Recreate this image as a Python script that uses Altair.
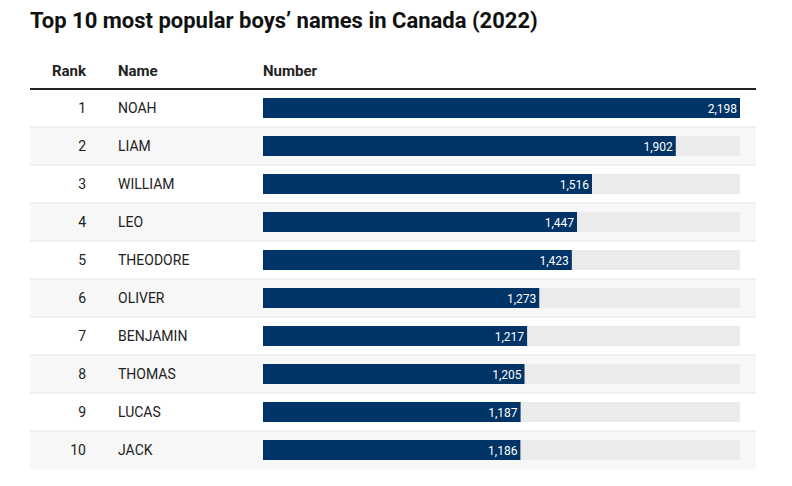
import altair as alt
import pandas as pd

ranks = [1, 2, 3, 4, 5, 6, 7, 8, 9, 10]
names = ["NOAH", "LIAM", "WILLIAM", "LEO", "THEODORE", "OLIVER", "BENJAMIN", "THOMAS", "LUCAS", "JACK"]
numbers = [2198, 1902, 1516, 1447, 1423, 1273, 1217, 1205, 1187, 1186]
max_number = 2198
title_text = "Top 10 most popular boys\u2019 names in Canada (2022)"
headers = ["Rank", "Name", "Number"]

df = pd.DataFrame({"rank": ranks, "name": names, "number": numbers})
df["label"] = [f"{v:,}" for v in numbers]
df["zero"] = 0
df["maxv"] = max_number
df["ytop"] = df["rank"] - 0.5
df["ybot"] = df["rank"] + 0.5
df["btop"] = df["rank"] - 0.265
df["bbot"] = df["rank"] + 0.265

FONT = "Roboto"
xs = alt.Scale(domain=[0, max_number], range=[255, 732])
ys = alt.Scale(domain=[0.5, 10.5], range=[81, 461])

base = alt.Chart(df)

row_bg = base.transform_filter("datum.rank % 2 == 0").mark_rect(color="#f7f7f7").encode(
    x=alt.value(22), x2=alt.value(748),
    y=alt.Y("ytop:Q", scale=ys, axis=None), y2="ybot:Q",
)

seps = base.transform_filter("datum.rank < 10").mark_rule(color="#e4e4e4", strokeWidth=1).encode(
    x=alt.value(22), x2=alt.value(748),
    y=alt.Y("ybot:Q", scale=ys, axis=None),
)

header_line = base.transform_filter("datum.rank == 1").mark_rule(color="#222222", strokeWidth=2).encode(
    x=alt.value(22), x2=alt.value(748),
    y=alt.Y("ytop:Q", scale=ys, axis=None),
)

bar_bg = base.mark_rect(color="#ebebeb").encode(
    x=alt.X("zero:Q", scale=xs, axis=None), x2="maxv:Q",
    y=alt.Y("btop:Q", scale=ys, axis=None), y2="bbot:Q",
)

bars = base.mark_rect(color="#003366").encode(
    x=alt.X("zero:Q", scale=xs, axis=None), x2="number:Q",
    y=alt.Y("btop:Q", scale=ys, axis=None), y2="bbot:Q",
)

vlabels = base.mark_text(align="right", baseline="middle", dx=-3, dy=1, color="white", font=FONT, fontSize=12).encode(
    x=alt.X("number:Q", scale=xs, axis=None),
    y=alt.Y("rank:Q", scale=ys, axis=None),
    text="label:N",
)

rank_txt = base.mark_text(align="right", baseline="middle", dy=1, color="#222222", font=FONT, fontSize=14).encode(
    x=alt.value(78),
    y=alt.Y("rank:Q", scale=ys, axis=None),
    text="rank:N",
)

name_txt = base.mark_text(align="left", baseline="middle", dy=1, color="#222222", font=FONT, fontSize=14).encode(
    x=alt.value(110),
    y=alt.Y("rank:Q", scale=ys, axis=None),
    text="name:N",
)

hdf = pd.DataFrame({"h": headers, "hx": [78, 110, 255]})
hdr_rank = alt.Chart(hdf.iloc[[0]]).mark_text(align="right", baseline="middle", font=FONT, fontSize=15, fontWeight="bold", color="#222222").encode(
    x=alt.value(78), y=alt.value(63), text="h:N")
hdr_rest = alt.Chart(hdf.iloc[1:]).mark_text(align="left", baseline="middle", font=FONT, fontSize=15, fontWeight="bold", color="#222222").encode(
    x=alt.X("hx:Q", scale=None), y=alt.value(63), text="h:N")

title = alt.Chart(pd.DataFrame({"t": [title_text]})).mark_text(
    align="left", baseline="alphabetic", font=FONT, fontSize=22, fontWeight="bold", color="#111111"
).encode(x=alt.value(22), y=alt.value(20), text="t:N")

chart = alt.layer(
    row_bg, seps, header_line, bar_bg, bars, vlabels, rank_txt, name_txt, hdr_rank, hdr_rest, title
).resolve_scale(x="independent").properties(
    width=776, height=470, autosize=alt.AutoSizeParams(type="none"), padding=0,
    background="white",
).configure_view(stroke=None)

chart.save("out.html", embed_options={"renderer": "svg", "actions": False})
